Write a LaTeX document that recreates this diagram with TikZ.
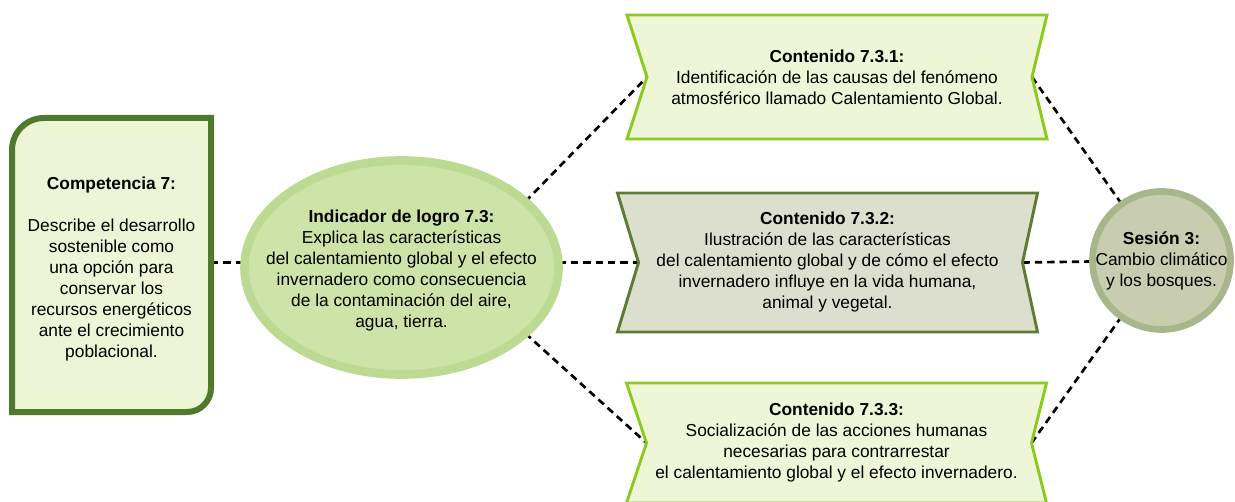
\documentclass[tikz,border=0pt]{standalone}
\usepackage{fontspec}
\setmainfont{Liberation Sans}
\usetikzlibrary{shapes.geometric,positioning,calc,backgrounds}

\definecolor{compfill}{HTML}{EDF5D7}
\definecolor{compline}{HTML}{4F7A2B}
\definecolor{logrofill}{HTML}{CDE4A9}
\definecolor{logroline}{HTML}{BDDA92}
\definecolor{cintafill}{HTML}{EDF6D7}
\definecolor{cintaline}{HTML}{8CCB1E}
\definecolor{grisfill}{HTML}{DCDFCD}
\definecolor{grisline}{HTML}{5C7C36}
\definecolor{sesionfill}{HTML}{C9CDAF}
\definecolor{sesionline}{HTML}{A8B68B}

\begin{document}
\begin{tikzpicture}[
    x=0.75pt, y=-0.75pt,
    every node/.style={font=\fontsize{13}{15.75}\selectfont, align=center, outer sep=0pt},
    compbox/.style={minimum width=149.25pt, inner sep=0pt},
    compforma/.style={fill=compfill, draw=compline, line width=4.5pt},
    logrobox/.style={ellipse, fill=logrofill, draw=logroline, line width=6.5pt, minimum width=235.5pt, minimum height=160.5pt, inner sep=0pt},
    cinta/.style={minimum width=315pt, inner sep=0pt},
    cintaverde/.style={fill=cintafill, draw=cintaline, line width=2.2pt},
    cintagris/.style={fill=grisfill, draw=grisline, line width=2.2pt},
    sesionbox/.style={circle, fill=sesionfill, draw=sesionline, line width=5pt, minimum size=103.5pt, inner sep=0pt},
    enlace/.style={line width=2pt, dash pattern=on 5.5pt off 3.75pt}
]
\useasboundingbox (0,0) rectangle (1235,502);

% nodos
\node[compbox] (comp) at (111.5,269) {\textbf{Competencia 7:}\\[15.75pt]Describe el desarrollo\\sostenible como\\una opción para\\conservar los\\recursos energéticos\\ante el crecimiento\\poblacional.};
\node[logrobox, label={[name=logrotxt, yshift=-2pt]center:{\textbf{Indicador de logro 7.3:}\\Explica las características\\del calentamiento global y el efecto\\invernadero como consecuencia\\de la contaminación del aire,\\agua, tierra.}}] (logro) at (401.5,267.5) {};
\node[cinta, minimum height=93pt] (cont1) at (837,77) {\textbf{Contenido 7.3.1:}\\Identificación de las causas del fenómeno\\atmosférico llamado Calentamiento Global.};
\node[cinta, minimum height=104.25pt] (cont2) at (827.5,262.5) {\textbf{Contenido 7.3.2:}\\Ilustración de las características\\del calentamiento global y de cómo el efecto\\invernadero influye en la vida humana,\\animal y vegetal.};
\node[cinta, minimum height=90pt] (cont3) at (836.5,443) {\textbf{Contenido 7.3.3:}\\Socialización de las acciones humanas\\necesarias para contrarrestar\\el calentamiento global y el efecto invernadero.};
\node[sesionbox, label={[name=sesiontxt]center:{\textbf{Sesión 3:}\\Cambio climático\\y los bosques.}}] (sesion) at (1161.5,260.5) {};

% puntas de las cintas
\coordinate (c1w) at ($(cont1.west)+(20,0)$);
\coordinate (c1e) at ($(cont1.east)+(-15,0)$);
\coordinate (c2w) at ($(cont2.west)+(21,0)$);
\coordinate (c2e) at ($(cont2.east)+(-15,0)$);
\coordinate (c3w) at ($(cont3.west)+(20,0)$);
\coordinate (c3e) at ($(cont3.east)+(-15,0)$);

\begin{scope}[on background layer]
% conectores
\draw[enlace] (comp.east |- c2w) -- (logro.west |- c2w);
\draw[enlace] (logro.east |- c2w) -- (c2w);
\draw[enlace] (logro.28) -- (c1w);
\draw[enlace] (logro.-28) -- (c3w);
\draw[enlace] (c1e) -- (sesion);
\draw[enlace] (c2e) -- (sesion);
\draw[enlace] (c3e) -- (sesion);

% formas
\filldraw[compforma] (12,150) .. controls (12,132.3) and (26.3,118) .. (44,118) -- (211,118) -- (211,388) .. controls (211,401.3) and (200.3,412) .. (187,412) -- (12,412) -- cycle;
\filldraw[cintaverde] (cont1.north west) -- (cont1.north east) -- (c1e) -- (cont1.south east) -- (cont1.south west) -- (c1w) -- cycle;
\filldraw[cintagris] (cont2.north west) -- (cont2.north east) -- (c2e) -- (cont2.south east) -- (cont2.south west) -- (c2w) -- cycle;
\filldraw[cintaverde] (cont3.north west) -- (cont3.north east) -- (c3e) -- (cont3.south east) -- (cont3.south west) -- (c3w) -- cycle;
\end{scope}
\end{tikzpicture}
\end{document}
